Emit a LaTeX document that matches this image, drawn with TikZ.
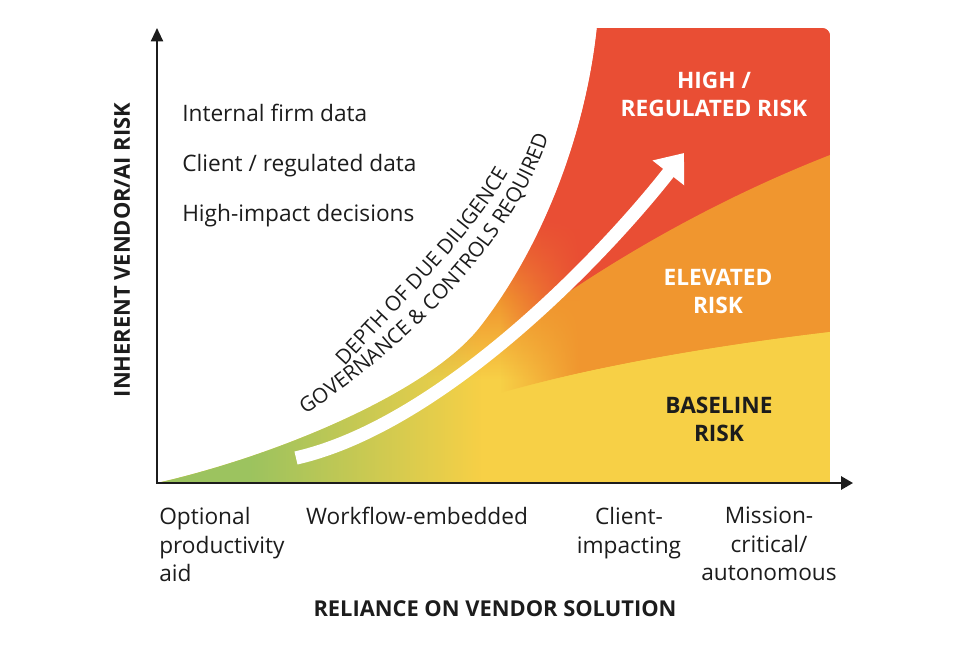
\documentclass[tikz,border=0pt]{standalone}
\usepackage{fontspec}
\setmainfont{Open Sans}
\usepackage{tikz}
\usetikzlibrary{positioning, calc, arrows.meta, decorations.text, fadings}

\definecolor{riskred}{HTML}{E94E34}
\definecolor{riskorange}{HTML}{F0962F}
\definecolor{riskyellow}{HTML}{F7D046}
\definecolor{riskgreen}{HTML}{9CC35F}
\definecolor{inkdark}{HTML}{1C1C1C}

% base colour of the risk area: red on top, yellow below
\pgfdeclareverticalshading{riskbase}{100bp}{color(0bp)=(riskyellow); color(36.3bp)=(riskyellow); color(45bp)=(riskorange); color(53.9bp)=(riskred); color(100bp)=(riskred)}
% fadings: green only on the left, sharp bands only on the right
\pgfdeclarehorizontalshading{greenramp}{100bp}{color(0bp)=(white); color(37.8bp)=(white); color(69.5bp)=(black); color(100bp)=(black)}
\pgfdeclarefading{greenfade}{\pgfuseshading{greenramp}}
\pgfdeclarehorizontalshading{bandramp}{100bp}{color(0bp)=(black); color(28bp)=(black); color(39.3bp)=(white); color(100bp)=(white)}
\pgfdeclarefading{bandfade}{\pgfuseshading{bandramp}}

\newcommand{\curvefont}{\fontsize{15.5}{18}\selectfont\color{inkdark}}

\begin{document}
\begin{tikzpicture}[x=0.75pt, y=-0.75pt,
	axis line/.style={line width=1.5pt, draw=inkdark},
	list text/.style={inner sep=0pt, text=inkdark, font=\fontsize{17}{20}\selectfont},
	tick text/.style={inner sep=0pt, text=inkdark, font=\fontsize{17}{21.4}\selectfont},
	title text/.style={inner sep=0pt, text=inkdark, font=\bfseries\fontsize{16.4}{20}\selectfont},
	zone text/.style={inner sep=0pt, align=center, font=\bfseries\fontsize{17}{21}\selectfont},
	curve text/.style={decorate, decoration={text along path, text align=center, text={|\curvefont|#1}}}]
\useasboundingbox (0,0) rectangle (975,650);
\coordinate (origin) at (157,483);
\coordinate (y end) at (157,28);
\coordinate (x end) at (853,483);
\coordinate (arrow tail) at (296,458);
\coordinate (arrow tip) at (684,153);
% coloured risk area
\begin{scope}
	\clip (origin) .. controls (280,455) and (430,391) .. (480,327) .. controls (540,250) and (585,140) .. (597,28)
		-- (822,28) arc[start angle=-90, end angle=0, radius=8] -- (830,483) -- cycle;
	\shade[shading=riskbase] (157,28) rectangle (830,483);
	\fill[riskgreen, path fading=greenfade] (157,28) rectangle (520,483);
	\fill[riskred, path fading=bandfade] (830,155) .. controls (720,198) and (620,255) .. (540,312) -- (480,352) -- (480,28) -- (830,28) -- cycle;
	\fill[riskorange, path fading=bandfade] (830,155) .. controls (720,198) and (620,255) .. (540,312) -- (480,352) -- (480,399) -- (500,393) .. controls (600,365) and (720,345) .. (830,332) -- cycle;
	\fill[riskyellow, path fading=bandfade] (480,399) -- (500,393) .. controls (600,365) and (720,345) .. (830,332) -- (830,483) -- (480,483) -- cycle;
\end{scope}
\draw[white, line width=10pt, -{Triangle[length=19pt, width=29pt]}] (arrow tail) .. controls (440,425) and (600,260) .. (arrow tip);
\draw[axis line, {Triangle[length=10pt, width=9pt]}-{Triangle[length=9pt, width=10pt]}] (y end) -- (origin) -- (x end);
% curved caption along the arrow
\path[curve text={DEPTH OF DUE DILIGENCE}] (335,377) .. controls (400,305) and (480,230) .. (515,160);
\path[curve text={GOVERNANCE {\&} CONTROLS REQUIRED}] (295,421) .. controls (400,355) and (520,240) .. (552,125);
% data kinds
\foreach \txt [count=\i] in {Internal firm data, Client / regulated data, High-impact decisions} {
	\edef\yy{\the\numexpr 71 + 50*\i}
	\node[list text, anchor=base west] (data \i) at (182, \yy) {\txt};
}
% reliance levels
\node[tick text, align=left, anchor=north west] (tick 1) at (159,507) {Optional\\productivity\\aid};
\foreach \lbl/\xx [count=\i from 2] in {Workflow-embedded/417, {Client-\\impacting}/629, {Mission-\\critical/\\autonomous}/769}
	\node[tick text, align=center, anchor=north] (tick \i) at (\xx,507) {\lbl};
\node[title text] (x label) at (495,609) {RELIANCE ON VENDOR SOLUTION};
\node[title text, rotate=90] (y label) at (122,250) {INHERENT VENDOR/AI RISK};
% risk zones
\node[zone text, text=white] (zone high) at (714,94) {HIGH /\\REGULATED RISK};
\node[zone text, text=white] (zone elevated) at (718,291) {ELEVATED\\RISK};
\node[zone text, text=inkdark] (zone baseline) at (719,419) {BASELINE\\RISK};
\end{tikzpicture}
\end{document}
